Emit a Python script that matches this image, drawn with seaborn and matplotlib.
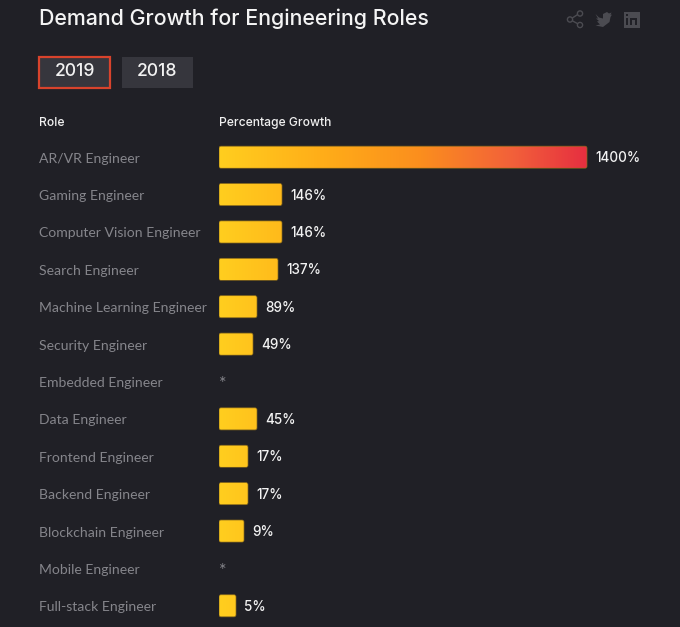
import matplotlib
matplotlib.use('Agg')
import matplotlib.pyplot as plt
import numpy as np
import pandas as pd
import seaborn as sns
from matplotlib.colors import LinearSegmentedColormap
from matplotlib.patches import Circle, FancyBboxPatch, PathPatch, Rectangle
from matplotlib.path import Path
from matplotlib.transforms import ScaledTranslation

# Data
roles = ['AR/VR Engineer', 'Gaming Engineer', 'Computer Vision Engineer',
         'Search Engineer', 'Machine Learning Engineer', 'Security Engineer',
         'Embedded Engineer', 'Data Engineer', 'Frontend Engineer',
         'Backend Engineer', 'Blockchain Engineer', 'Mobile Engineer',
         'Full-stack Engineer']
value_labels = ['1400%', '146%', '146%', '137%', '89%', '49%', '*',
                '45%', '17%', '17%', '9%', '*', '5%']
# the bars are not to scale with the labels, so lengths are read separately
bar_lengths = [368, 63, 63, 59, 38, 34, 0, 38, 29, 29, 25, 0, 17]
years = ['2019', '2018']

BG = '#202026'
TITLE_FONT = 'Inter'
ROW_FONT = 'Lato'

sns.set_theme(style='dark', rc={'axes.facecolor': BG, 'figure.facecolor': BG})

W, H = 680, 627
fig = plt.figure(figsize=(W / 100, H / 100), dpi=100)

# Bars: one x unit is one pixel
top, bottom = 138.5, 624.5
ax = fig.add_axes([219 / W, 1 - bottom / H, (W - 219) / W, (bottom - top) / H])
df = pd.DataFrame({'role': roles, 'length': bar_lengths})
sns.barplot(data=df, x='length', y='role', ax=ax, width=0.59, color='#ffcc1e',
            saturation=1)

grad = LinearSegmentedColormap.from_list(
    'bar', [(0, '#ffce1f'), (0.3, '#ffab18'), (0.55, '#fb8e1e'),
            (0.8, '#f2603a'), (1, '#e62f40')])
ramp = np.linspace(0, 1, 256).reshape(1, -1)
max_len = max(bar_lengths)
for bar in list(ax.patches):
    w, h = bar.get_width(), bar.get_height()
    y0 = bar.get_y()
    bar.set_visible(False)
    if w == 0:
        continue
    # rounded corners need about 1.5 px; y units are rows of ~37.4 px
    shape = FancyBboxPatch((0, y0), w, h, boxstyle='round,pad=0,rounding_size=2',
                           mutation_aspect=1 / 37.4, fc='none', ec='#8a6a1a',
                           lw=0.5, zorder=3)
    ax.add_patch(shape)
    im = ax.imshow(ramp, cmap=grad, extent=(0, max_len, y0 + h, y0), aspect='auto',
                   zorder=2)
    im.set_clip_path(shape)

ax.set_xlim(0, W - 219)
ax.set_ylim(len(roles) - 0.5, -0.5)
ax.set_xlabel('')
ax.set_ylabel('')
ax.set_xticks([])
ax.grid(False)
sns.despine(ax=ax, left=True, bottom=True)
ax.tick_params(axis='y', length=0, pad=180 * 0.72)
nudge = ScaledTranslation(0, -1.5 / 100, fig.dpi_scale_trans)
for tick in ax.get_yticklabels():
    tick.set(ha='left', va='center', color='#85858b', fontsize=10.1, family=ROW_FONT)
    tick.set_transform(tick.get_transform() + nudge)

for i, (length, label) in enumerate(zip(bar_lengths, value_labels)):
    if label == '*':
        ax.text(0, i + 0.06, label, color='#85858b', fontsize=13, family=ROW_FONT,
                va='center')
    else:
        ax.text(length + 8, i + 0.03, label, color='#f2f2f2', fontsize=9.7,
                family=TITLE_FONT, weight='medium', va='center')

# Header, buttons and icons drawn in pixel coordinates
top_ax = fig.add_axes([0, 0, 1, 1], facecolor='none')
top_ax.set_xlim(0, W)
top_ax.set_ylim(H, 0)
top_ax.axis('off')

top_ax.text(39, 19, 'Demand Growth for Engineering Roles', color='#f4f4f4',
            fontsize=15.4, family=TITLE_FONT, weight='medium', va='center')

for i, year in enumerate(years):
    x0 = 39 + i * 83
    selected = i == 0
    top_ax.add_patch(Rectangle((x0, 56.5), 71, 31, fc='#36363d',
                               ec='#d8432c' if selected else '#36363d',
                               lw=1.6 if selected else 0))
    top_ax.text(x0 + 35.5, 72, year, color='#f2f2f2', fontsize=12.6,
                family=TITLE_FONT, weight='medium', ha='center', va='center')

top_ax.text(39, 123, 'Role', color='#f0f0f0', fontsize=8.7, family=TITLE_FONT,
            weight='medium', va='center')
top_ax.text(219, 123, 'Percentage Growth', color='#f0f0f0', fontsize=8.7,
            family=TITLE_FONT, weight='medium', va='center')

icon = '#4b4b51'
top_ax.plot([580, 570, 580], [13, 19.5, 25], color=icon, lw=1)
for cx, cy in [(580, 13.5), (570, 19.5), (580, 25)]:
    top_ax.add_patch(Circle((cx, cy), 2.6, fc=BG, ec=icon, lw=1, zorder=3))

bird = Path([(595.5, 14), (599, 17.5), (603, 18.5), (603, 14), (607, 12), (609, 13.5),
             (611.5, 12.5), (610.5, 15), (612, 14.5), (610.5, 17), (609.5, 22), (603, 27),
             (595.5, 25.5), (600, 24.5), (597, 21.5), (599, 21), (596, 18.5), (598, 18.5),
             (595.5, 14)])
top_ax.add_patch(PathPatch(bird, fc=icon, ec='none'))

top_ax.add_patch(Rectangle((623.5, 11.5), 16, 16, fc=icon, ec='none'))
top_ax.add_patch(Rectangle((626, 18), 2, 7, fc=BG, ec='none'))
top_ax.add_patch(Rectangle((626, 14), 2, 2, fc=BG, ec='none'))
top_ax.add_patch(Rectangle((629.5, 18), 2, 7, fc=BG, ec='none'))
top_ax.add_patch(Rectangle((629.5, 18), 6.5, 2, fc=BG, ec='none'))
top_ax.add_patch(Rectangle((634.5, 18), 2, 7, fc=BG, ec='none'))

fig.savefig('out.png', dpi=100, facecolor=BG)
